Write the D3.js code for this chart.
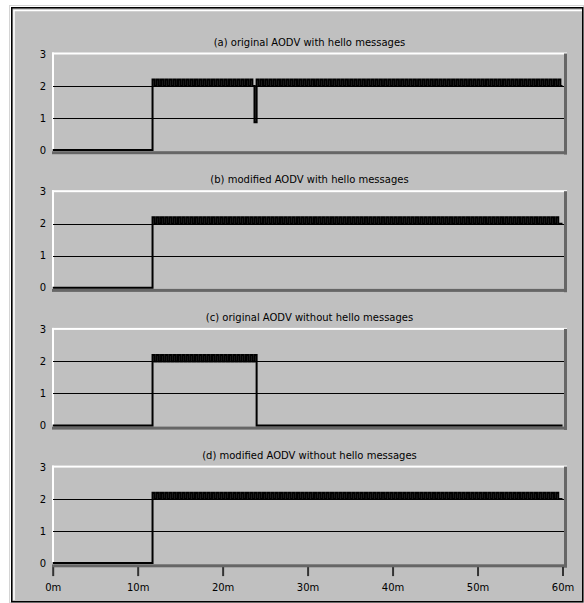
<!DOCTYPE html>
<html lang="en">
<head>
  <meta charset="UTF-8" />
  <title>AODV with and without hello messages</title>
  <script src="https://d3js.org/d3.v7.min.js"></script>
  <style>
    body {
      margin: 0;
      background: #fff;
    }
    svg text {
      font-family: "DejaVu Sans", Verdana, sans-serif;
      font-size: 10px;
      fill: #000;
    }
    .series {
      fill: none;
      stroke: #000;
      stroke-width: 2;
    }
    .grid {
      stroke: #000;
      stroke-width: 1;
    }
  </style>
</head>
<body>

<svg width="584" height="603"></svg>

<script>
  // one reading every 15 s, from 0m to 60m (241 readings per run)
  const stepMinutes = 0.25;

  const panelTitles = [
    "(a) original AODV with hello messages",
    "(b) modified AODV with hello messages",
    "(c) original AODV without hello messages",
    "(d) modified AODV without hello messages"
  ];

  const originalHello = [
    0,0,0,0,0,0,0,0,0,0,0,0,0,0,0,0,
    0,0,0,0,0,0,0,0,0,0,0,0,0,0,0,0,
    0,0,0,0,0,0,0,0,0,0,0,0,0,0,0,
    2.2,2,2.2,2,2.2,2,2.2,2,2.2,2,2.2,2,2.2,2,2.2,2,
    2.2,2,2.2,2,2.2,2,2.2,2,2.2,2,2.2,2,2.2,2,2.2,2,
    2.2,2,2.2,2,2.2,2,2.2,2,2.2,2,2.2,2,2.2,2,2.2,2,
    0.87,
    2.2,2,2.2,2,2.2,2,2.2,2,2.2,2,2.2,2,2.2,2,2.2,2,
    2.2,2,2.2,2,2.2,2,2.2,2,2.2,2,2.2,2,2.2,2,2.2,2,
    2.2,2,2.2,2,2.2,2,2.2,2,2.2,2,2.2,2,2.2,2,2.2,2,
    2.2,2,2.2,2,2.2,2,2.2,2,2.2,2,2.2,2,2.2,2,2.2,2,
    2.2,2,2.2,2,2.2,2,2.2,2,2.2,2,2.2,2,2.2,2,2.2,2,
    2.2,2,2.2,2,2.2,2,2.2,2,2.2,2,2.2,2,2.2,2,2.2,2,
    2.2,2,2.2,2,2.2,2,2.2,2,2.2,2,2.2,2,2.2,2,2.2,2,
    2.2,2,2.2,2,2.2,2,2.2,2,2.2,2,2.2,2,2.2,2,2.2,2,
    2.2,2,2.2,2,2.2,2,2.2,2,2.2,2,2.2,2,2.2,2,2.2,2,
    2
  ];

  const modifiedHello = [
    0,0,0,0,0,0,0,0,0,0,0,0,0,0,0,0,
    0,0,0,0,0,0,0,0,0,0,0,0,0,0,0,0,
    0,0,0,0,0,0,0,0,0,0,0,0,0,0,0,
    2.2,2,2.2,2,2.2,2,2.2,2,2.2,2,2.2,2,2.2,2,2.2,2,
    2.2,2,2.2,2,2.2,2,2.2,2,2.2,2,2.2,2,2.2,2,2.2,2,
    2.2,2,2.2,2,2.2,2,2.2,2,2.2,2,2.2,2,2.2,2,2.2,2,
    2.2,2,2.2,2,2.2,2,2.2,2,2.2,2,2.2,2,2.2,2,2.2,2,
    2.2,2,2.2,2,2.2,2,2.2,2,2.2,2,2.2,2,2.2,2,2.2,2,
    2.2,2,2.2,2,2.2,2,2.2,2,2.2,2,2.2,2,2.2,2,2.2,2,
    2.2,2,2.2,2,2.2,2,2.2,2,2.2,2,2.2,2,2.2,2,2.2,2,
    2.2,2,2.2,2,2.2,2,2.2,2,2.2,2,2.2,2,2.2,2,2.2,2,
    2.2,2,2.2,2,2.2,2,2.2,2,2.2,2,2.2,2,2.2,2,2.2,2,
    2.2,2,2.2,2,2.2,2,2.2,2,2.2,2,2.2,2,2.2,2,2.2,2,
    2.2,2,2.2,2,2.2,2,2.2,2,2.2,2,2.2,2,2.2,2,2.2,2,
    2.2,2,2.2,2,2.2,2,2.2,2,2.2,2,2.2,2,2.2,2,2.2,2,
    2,2
  ];

  const originalNoHello = [
    0,0,0,0,0,0,0,0,0,0,0,0,0,0,0,0,
    0,0,0,0,0,0,0,0,0,0,0,0,0,0,0,0,
    0,0,0,0,0,0,0,0,0,0,0,0,0,0,0,
    2.2,2,2.2,2,2.2,2,2.2,2,2.2,2,2.2,2,2.2,2,2.2,2,
    2.2,2,2.2,2,2.2,2,2.2,2,2.2,2,2.2,2,2.2,2,2.2,2,
    2.2,2,2.2,2,2.2,2,2.2,2,2.2,2,2.2,2,2.2,2,2.2,2,
    2.2,
    0,0,0,0,0,0,0,0,0,0,0,0,0,0,0,0,
    0,0,0,0,0,0,0,0,0,0,0,0,0,0,0,0,
    0,0,0,0,0,0,0,0,0,0,0,0,0,0,0,0,
    0,0,0,0,0,0,0,0,0,0,0,0,0,0,0,0,
    0,0,0,0,0,0,0,0,0,0,0,0,0,0,0,0,
    0,0,0,0,0,0,0,0,0,0,0,0,0,0,0,0,
    0,0,0,0,0,0,0,0,0,0,0,0,0,0,0,0,
    0,0,0,0,0,0,0,0,0,0,0,0,0,0,0,0,
    0,0,0,0,0,0,0,0,0,0,0,0,0,0,0,0,
    0
  ];

  const modifiedNoHello = [
    0,0,0,0,0,0,0,0,0,0,0,0,0,0,0,0,
    0,0,0,0,0,0,0,0,0,0,0,0,0,0,0,0,
    0,0,0,0,0,0,0,0,0,0,0,0,0,0,0,
    2.2,2,2.2,2,2.2,2,2.2,2,2.2,2,2.2,2,2.2,2,2.2,2,
    2.2,2,2.2,2,2.2,2,2.2,2,2.2,2,2.2,2,2.2,2,2.2,2,
    2.2,2,2.2,2,2.2,2,2.2,2,2.2,2,2.2,2,2.2,2,2.2,2,
    2.2,2,2.2,2,2.2,2,2.2,2,2.2,2,2.2,2,2.2,2,2.2,2,
    2.2,2,2.2,2,2.2,2,2.2,2,2.2,2,2.2,2,2.2,2,2.2,2,
    2.2,2,2.2,2,2.2,2,2.2,2,2.2,2,2.2,2,2.2,2,2.2,2,
    2.2,2,2.2,2,2.2,2,2.2,2,2.2,2,2.2,2,2.2,2,2.2,2,
    2.2,2,2.2,2,2.2,2,2.2,2,2.2,2,2.2,2,2.2,2,2.2,2,
    2.2,2,2.2,2,2.2,2,2.2,2,2.2,2,2.2,2,2.2,2,2.2,2,
    2.2,2,2.2,2,2.2,2,2.2,2,2.2,2,2.2,2,2.2,2,2.2,2,
    2.2,2,2.2,2,2.2,2,2.2,2,2.2,2,2.2,2,2.2,2,2.2,2,
    2.2,2,2.2,2,2.2,2,2.2,2,2.2,2,2.2,2,2.2,2,2.2,2,
    2,2
  ];

  const runs = [originalHello, modifiedHello, originalNoHello, modifiedNoHello];

  const xTicks = [0, 10, 20, 30, 40, 50, 60];
  const xTickLabels = ["0m", "10m", "20m", "30m", "40m", "50m", "60m"];
  const yTicks = [0, 1, 2, 3];
  const yGrid = [1, 2];

  const svg = d3.select("svg");

  // outer window frame
  svg.append("rect")
    .attr("x", 9.5).attr("y", 5.5).attr("width", 574).attr("height", 597)
    .attr("fill", "none").attr("stroke", "#d4d4d4");
  svg.append("rect")
    .attr("x", 11.75).attr("y", 7.75).attr("width", 571).attr("height", 594)
    .attr("fill", "#c0c0c0").attr("stroke", "#000").attr("stroke-width", 1.5);
  svg.append("path")
    .attr("d", "M14,600V10.5H582")
    .attr("fill", "none").attr("stroke", "#fff").attr("stroke-width", 1.5);

  const left = 52, right = 564;
  const firstTop = 52.5, panelStep = 137.7;

  const x = d3.scaleLinear().domain([0, 60]).range([52.7, 562.5]);

  runs.forEach((values, i) => {
    const top = firstTop + i * panelStep;
    const y = d3.scaleLinear().domain([0, 3]).range([top + 97.5, top + 1.5]);
    const g = svg.append("g");

    // sunken plot area: white top/left, dark bottom/right
    g.append("rect")
      .attr("x", left).attr("y", top).attr("width", right + 3 - left).attr("height", 2)
      .attr("fill", "#fff");
    g.append("rect")
      .attr("x", left).attr("y", top).attr("width", 2).attr("height", 99)
      .attr("fill", "#fff");
    g.append("rect")
      .attr("x", right).attr("y", top + 1).attr("width", 3).attr("height", 101)
      .attr("fill", "#666");
    g.append("rect")
      .attr("x", left).attr("y", top + 98.7).attr("width", right + 3 - left).attr("height", 3)
      .attr("fill", "#666");

    g.selectAll(".grid")
      .data(yGrid)
      .join("line")
      .attr("class", "grid")
      .attr("x1", left + 1).attr("x2", right)
      .attr("y1", d => Math.round(y(d)) + 0.5)
      .attr("y2", d => Math.round(y(d)) + 0.5);

    const line = d3.line()
      .x((d, k) => x(k * stepMinutes))
      .y(d => y(d))
      .curve(d3.curveStepAfter);

    g.append("path")
      .datum(values)
      .attr("class", "series")
      .attr("d", line);

    g.append("text")
      .attr("x", (left + right + 3) / 2)
      .attr("y", top - 7)
      .attr("text-anchor", "middle")
      .text(panelTitles[i]);

    const yAxis = g.append("g")
      .attr("transform", `translate(${left},0)`)
      .call(d3.axisLeft(y).tickValues(yTicks).tickSize(0).tickPadding(6).tickFormat(d3.format("d")));
    yAxis.select(".domain").remove();
    yAxis.attr("font-family", null).attr("font-size", null);

    if (i === runs.length - 1) {
      const xAxis = g.append("g")
        .attr("transform", `translate(0,${top + 101.5})`)
        .call(d3.axisBottom(x).tickValues(xTicks).tickSize(9).tickPadding(8)
          .tickFormat((d, k) => xTickLabels[k]));
      xAxis.select(".domain").remove();
      xAxis.selectAll(".tick line").attr("stroke", "#333").attr("stroke-width", 2);
      xAxis.attr("font-family", null).attr("font-size", null);
    }
  });
</script>

</body>
</html>
